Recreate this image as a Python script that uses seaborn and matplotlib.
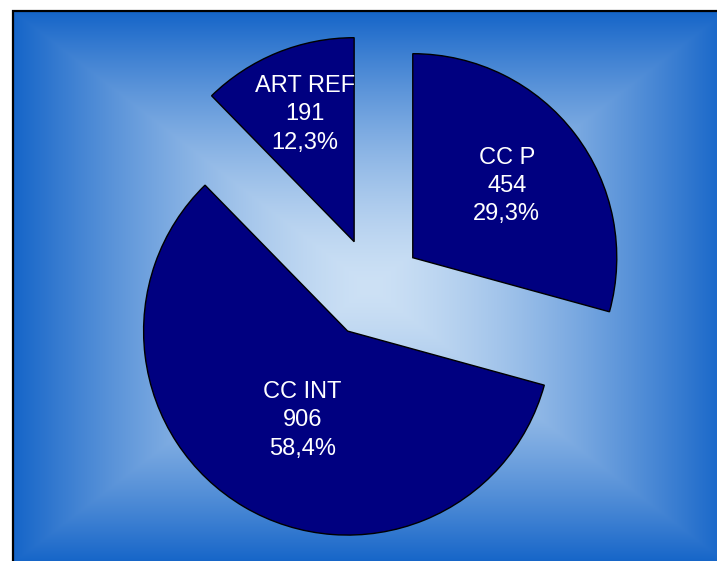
import numpy as np
import matplotlib
matplotlib.use("Agg")
import matplotlib.pyplot as plt
import seaborn as sns
from matplotlib.patches import Rectangle

# ---- data ----
categories = ["CC P", "CC INT", "ART REF"]
counts = [454, 906, 191]
pct_labels = ["29,3%", "58,4%", "12,3%"]

# ---- style ----
sns.set_style("white")
plt.rcParams['font.family'] = ['Liberation Sans', 'DejaVu Sans']

W, H = 717, 561
fig = plt.figure(figsize=(W / 100, H / 100), dpi=100)
ax = fig.add_axes([0, 0, 1, 1])
ax.axis('off')

# background: rectangular "from centre" gradient
gx0, gx1 = 12, 730
gy_bot, gy_top = -5, H - 10
gcx, gcy = 370, H - 287
xs = np.linspace(gx0, gx1, 900)
ys = np.linspace(gy_bot, gy_top, 700)
X, Y = np.meshgrid(xs, ys)
t = np.maximum(np.abs(X - gcx) / (gcx - gx0), np.abs(Y - gcy) / (gy_top - gcy))
t = np.clip(t, 0, 1) ** 1.45
c_center = np.array([205, 225, 245]) / 255
c_edge = np.array([20, 100, 200]) / 255
img = c_center + (c_edge - c_center) * t[..., None]
ax.imshow(img, extent=(gx0, gx1, gy_bot, gy_top), origin='lower',
          interpolation='bilinear', zorder=0)

# pie
radius = 204
explode_px = 50
wedges, _ = ax.pie(counts, radius=radius, center=(373, H - 288), startangle=90,
                   counterclock=False, explode=[explode_px] * len(counts),
                   colors=['#000080'] * len(counts), frame=True,
                   wedgeprops=dict(edgecolor='black', linewidth=1.0, zorder=2))

label_r = [0.58, 0.49, 0.67]
label_nudge = [0.0, 3.8, -1.0]
for w, cat, n, p, r, nd in zip(wedges, categories, counts, pct_labels, label_r, label_nudge):
    a = np.deg2rad(0.5 * (w.theta1 + w.theta2) + nd)
    cx, cy = w.center
    ax.text(cx + r * radius * np.cos(a), cy + r * radius * np.sin(a),
            f"{cat}\n{n}\n{p}", ha='center', va='center', color='white',
            fontsize=17, linespacing=1.38, zorder=3)

# border
ax.add_patch(Rectangle((12.5, -30), 900, H - 10.5 + 30, fill=False,
                       edgecolor='black', linewidth=1.6, zorder=4))

ax.set_xlim(0, W)
ax.set_ylim(0, H)
ax.set_aspect('auto')
ax.axis('off')

fig.savefig("out.png", dpi=100, facecolor='white')
